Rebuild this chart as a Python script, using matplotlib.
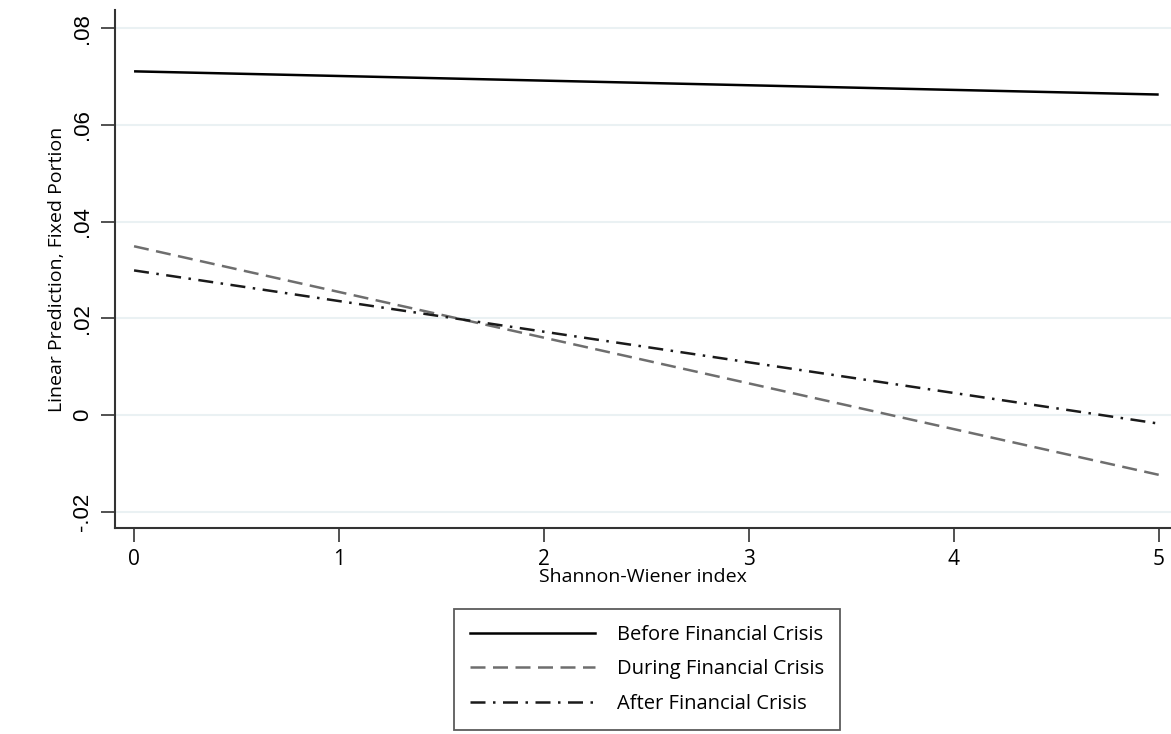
import numpy as np
import matplotlib.pyplot as plt
from matplotlib.lines import Line2D

# Shannon-Wiener index endpoints and fitted predictions
x = [0, 5]
before = [0.0711, 0.0663]
during = [0.0349, -0.0124]
after = [0.0299, -0.0018]
labels = ["Before Financial Crisis", "During Financial Crisis", "After Financial Crisis"]
yticks = [-0.02, 0, 0.02, 0.04, 0.06, 0.08]
yticklabels = ["-.02", "0", ".02", ".04", ".06", ".08"]

fig = plt.figure(figsize=(11.71, 7.34), dpi=100)
ax = fig.add_axes([0.0982, 0.2807, 0.9018, 0.7057])

for yv in yticks:
    ax.axhline(yv, color="#eaf1f3", lw=1.5, zorder=0)

ax.plot(x, before, color="black", lw=1.8, solid_capstyle="butt")
ax.plot(x, during, color="#6e6e6e", lw=1.8, dashes=(6, 3))
ax.plot(x, after, color="#1a1a1a", lw=1.8, dashes=(6, 3, 1, 3))

ax.set_xlim(-0.093, 5.06)
ax.set_ylim(-0.0234, 0.0838)
ax.set_xticks(range(6))
ax.set_xticklabels([str(i) for i in range(6)], fontsize=15, family="Open Sans")
ax.set_yticks(yticks)
ax.set_yticklabels(yticklabels, fontsize=16, rotation=90, va="center", family="Liberation Sans")
ax.tick_params(axis="x", length=10, width=1.2, color="#333333", pad=5)
ax.tick_params(axis="y", length=10, width=1.2, color="#333333", pad=6)
ax.set_xlabel("Shannon-Wiener index", fontsize=14, family="Open Sans", labelpad=-1)
ax.set_ylabel("Linear Prediction, Fixed Portion", fontsize=14, family="Open Sans", labelpad=4)

for s in ["top", "right"]:
    ax.spines[s].set_visible(False)
for s in ["left", "bottom"]:
    ax.spines[s].set_color("#333333")
    ax.spines[s].set_linewidth(1.5)

handles = [
    Line2D([], [], color="black", lw=1.8),
    Line2D([], [], color="#6e6e6e", lw=1.8, dashes=(6, 3)),
    Line2D([], [], color="#1a1a1a", lw=1.8, dashes=(6, 3, 1, 3)),
]
leg = fig.legend(handles, labels, loc="center", bbox_to_anchor=(0.5525, 0.0879),
                 frameon=True, fancybox=False, edgecolor="#333333", handlelength=6.2,
                 handletextpad=1.1, labelspacing=0.72, borderpad=0.8,
                 prop={"family": "Open Sans", "size": 14.5})
leg.get_frame().set_linewidth(1.3)

fig.savefig("out.png", dpi=100)
